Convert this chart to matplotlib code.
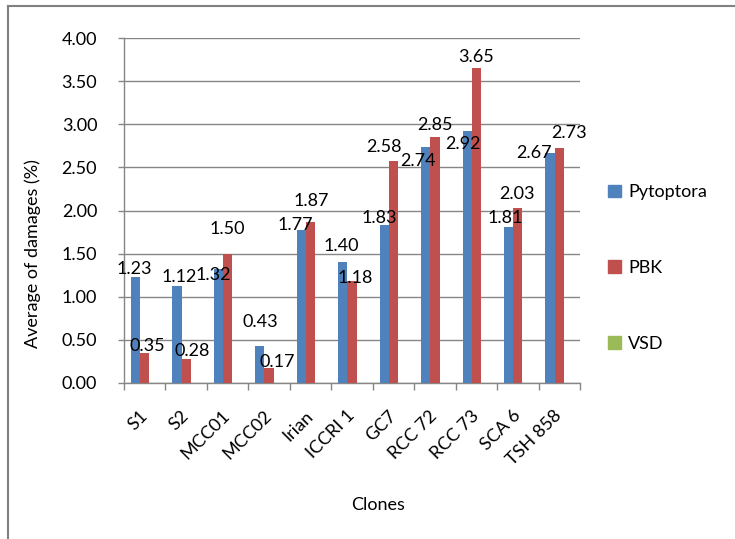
import numpy as np
import matplotlib
matplotlib.use("Agg")
import matplotlib.pyplot as plt
from matplotlib.lines import Line2D
from matplotlib.patches import Patch

plt.rcParams['font.family'] = ['Lato', 'DejaVu Sans']

# data
clones = ['S1', 'S2', 'MCC01', 'MCC02', 'Irian', 'ICCRI 1', 'GC7',
          'RCC 72', 'RCC 73', 'SCA 6', 'TSH 858']
pytoptora = [1.23, 1.12, 1.32, 0.43, 1.77, 1.40, 1.83, 2.74, 2.92, 1.81, 2.67]
pbk = [0.35, 0.28, 1.50, 0.17, 1.87, 1.18, 2.58, 2.85, 3.65, 2.03, 2.73]
vsd = [0, 0, 0, 0, 0, 0, 0, 0, 0, 0, 0]
series_names = ['Pytoptora', 'PBK', 'VSD']

# label placement (pixel offsets from bar top, as Excel drew them)
blue_dx = [-1.5, 2, -5, 0, -6, -2, -5, -8, -4, -3.6, -16.5]
blue_dy = [7.8, 9, -6, 24, 5, 15.7, 7.6, -14.7, -12.7, 8.4, 0]
red_dx = [3, 6, 0, 8, 1, 3, -10, 0, 0, -1, 10]
red_dy = [6.6, 7.6, 24.5, 6, 20.7, 3.6, 14, 12.3, 11, 14.4, 14.7]

colors = ['#4F81BD', '#C0504D', '#9BBB59']
grid_c = '#868686'
fs = 13

W, H = 735, 539
fig = plt.figure(figsize=(W / 100, H / 100), dpi=100)
ax = fig.add_axes([124 / W, 1 - 382.7 / H, (580 - 124) / W, (382.7 - 38.3) / H])

x = np.arange(len(clones))
bw = 0.222
for k, (vals, c) in enumerate(zip([pytoptora, pbk, vsd], colors)):
    ax.bar(x + (k - 1) * bw, vals, width=bw, color=c, zorder=3)

def put_labels(vals, shift, dxs, dys):
    for i, v in enumerate(vals):
        ax.annotate(f'{v:.2f}', (i + shift, v), xytext=(dxs[i], dys[i]),
                    textcoords='offset pixels', ha='center', va='center',
                    fontsize=fs, zorder=5)

put_labels(pytoptora, -bw, blue_dx, blue_dy)
put_labels(pbk, 0, red_dx, red_dy)

ax.set_xlim(-0.5, len(clones) - 0.5)
ax.set_ylim(0, 4)
ax.set_yticks(np.arange(0, 4.01, 0.5))
ax.set_yticklabels([f'{t:.2f}' for t in np.arange(0, 4.01, 0.5)], fontsize=fs)
ax.yaxis.grid(True, color=grid_c, linewidth=1.0, zorder=0)
ax.set_axisbelow(True)

ax.set_xticks(np.arange(-0.5, len(clones), 1.0))
ax.set_xticklabels([])
ax.set_xticks(x, minor=True)
ax.set_xticklabels(clones, minor=True, rotation=45, ha='right',
                   va='center', rotation_mode='anchor', fontsize=fs)
ax.tick_params(axis='x', which='minor', length=0, pad=22)
ax.tick_params(axis='x', which='major', length=5, color=grid_c, width=1.0)
ax.tick_params(axis='y', length=4.3, color=grid_c, width=1.0, pad=15)

for s in ['top', 'right']:
    ax.spines[s].set_visible(False)
for s in ['left', 'bottom']:
    ax.spines[s].set_color(grid_c)
    ax.spines[s].set_linewidth(1.0)

fig.text(33 / W, 1 - 254 / H, 'Average of damages (%)', rotation=90,
         ha='center', va='center', fontsize=fs)
fig.text(378 / W, 1 - 505 / H, 'Clones', ha='center', va='center', fontsize=fs)

handles = [Patch(color=c) for c in colors]
fig.legend(handles, series_names, loc='center left',
           bbox_to_anchor=(592 / W, 1 - 268 / H), frameon=False,
           fontsize=fs, handlelength=0.7, handleheight=0.7,
           handletextpad=0.4, labelspacing=3.3)

# outer chart frame
fig.add_artist(Line2D([8 / W, 8 / W], [0, 1 - 6 / H], color='#808080', lw=1.5))
fig.add_artist(Line2D([8 / W, 1], [1 - 6 / H, 1 - 6 / H], color='#808080', lw=1.5))

fig.savefig('out.png', dpi=100)
